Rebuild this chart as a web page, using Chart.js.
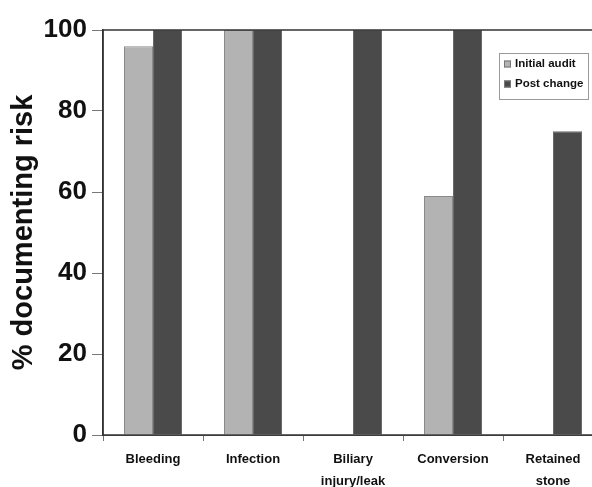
<!DOCTYPE html>
<html>
<head>
<meta charset="utf-8">
<script src="https://cdn.jsdelivr.net/npm/chart.js@4.4.1/dist/chart.umd.min.js"></script>
<style>
  html, body { margin: 0; padding: 0; background: #fff; overflow: hidden; }
  #wrap { width: 620px; height: 487px; }
</style>
</head>
<body>
<div id="wrap"><canvas id="barChart" width="620" height="487"></canvas></div>
<script>
// categories and values
var categories = ["Bleeding", "Infection", ["Biliary", "injury/leak"], "Conversion", ["Retained", "stone"]];
var initialAudit = [96, 100, 0, 59, 0];
var postChange = [100, 100, 100, 100, 75];
var yTicks = [0, 20, 40, 60, 80, 100];

var FONT = "'Liberation Sans', Arial, sans-serif";

// frame round the plot + legend box in the top right corner
var framePlugin = {
    id: "frame",
    afterDatasetsDraw: function (chart) {
        var ctx = chart.ctx, a = chart.chartArea;
        ctx.save();
        ctx.strokeStyle = "#333";
        ctx.lineWidth = 1.5;
        ctx.strokeRect(a.left, a.top, a.right - a.left, a.bottom - a.top);
        ctx.restore();
    },
    afterDraw: function (chart) {
        var ctx = chart.ctx;
        var bx = 499, by = 53, bw = 89, bh = 46;
        ctx.save();
        ctx.fillStyle = "#fff";
        ctx.fillRect(bx, by, bw, bh);
        ctx.strokeStyle = "#9a9a9a";
        ctx.lineWidth = 1;
        ctx.strokeRect(bx + 0.5, by + 0.5, bw, bh);
        ctx.font = "bold 11.5px " + FONT;
        ctx.textBaseline = "middle";
        chart.data.datasets.forEach(function (ds, i) {
            var cy = by + 11 + i * 20;
            ctx.fillStyle = ds.backgroundColor;
            ctx.fillRect(bx + 5, cy - 3.5, 7, 7);
            ctx.strokeStyle = "#777";
            ctx.strokeRect(bx + 5.5, cy - 3, 6, 6);
            ctx.fillStyle = "#111";
            ctx.fillText(ds.label, bx + 16, cy);
        });
        ctx.restore();
    }
};

var barChart = new Chart(document.getElementById("barChart").getContext("2d"), {
    type: "bar",
    data: {
        labels: categories,
        datasets: [{
            label: "Initial audit",
            data: initialAudit,
            backgroundColor: "#b3b3b3",
            borderColor: "#8a8a8a",
            borderWidth: 1
        }, {
            label: "Post change",
            data: postChange,
            backgroundColor: "#4a4a4a",
            borderColor: "#6a6a6a",
            borderWidth: 1
        }]
    },
    options: {
        responsive: false,
        animation: false,
        layout: { padding: { top: 30, right: 17, left: 0, bottom: 0 } },
        plugins: { legend: { display: false }, tooltip: { enabled: false } },
        datasets: { bar: { categoryPercentage: 0.58, barPercentage: 1 } },
        scales: {
            x: {
                afterFit: function (s) { s.height = 52; },
                border: { display: true, color: "#555", width: 1 },
                grid: { display: true, drawOnChartArea: false, offset: true, tickLength: 6, color: "#777" },
                ticks: {
                    color: "#111",
                    padding: 7,
                    maxRotation: 0,
                    autoSkip: false,
                    font: { family: FONT, size: 13, weight: "bold", lineHeight: "22px" }
                }
            },
            y: {
                min: 0,
                max: 100,
                afterFit: function (s) { s.width = 103; },
                afterBuildTicks: function (s) { s.ticks = yTicks.map(function (v) { return { value: v }; }); },
                border: { display: true, color: "#333", width: 1.5 },
                grid: { display: true, drawOnChartArea: false, tickLength: 11, color: "#777" },
                ticks: {
                    color: "#111",
                    padding: 5,
                    font: { family: FONT, size: 26, weight: "bold" }
                },
                title: {
                    display: true,
                    text: "% documenting risk",
                    color: "#111",
                    padding: { top: 7, bottom: 0 },
                    font: { family: FONT, size: 29, weight: "bold", lineHeight: 1.2 }
                }
            }
        }
    },
    plugins: [framePlugin]
});
</script>
</body>
</html>
